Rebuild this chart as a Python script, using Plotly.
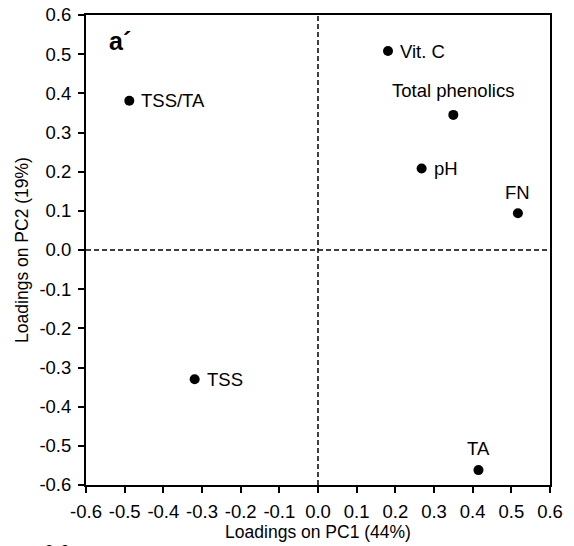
import plotly.graph_objects as go

names = ["Vit. C", "TSS/TA", "Total phenolics", "pH", "FN", "TSS", "TA"]
pc1 = [0.181, -0.488, 0.350, 0.268, 0.517, -0.319, 0.415]
pc2 = [0.508, 0.381, 0.345, 0.208, 0.094, -0.330, -0.562]
tick_vals = [-0.6, -0.5, -0.4, -0.3, -0.2, -0.1, 0.0, 0.1, 0.2, 0.3, 0.4, 0.5, 0.6]
tick_text = ["-0.6", "-0.5", "-0.4", "-0.3", "-0.2", "-0.1", "0.0", "0.1", "0.2", "0.3", "0.4", "0.5", "0.6"]

# label placement style: (xanchor, xshift, yshift)
label_style = {
    "Vit. C": ("left", 10, 0),
    "TSS/TA": ("left", 10, 0),
    "Total phenolics": ("center", 0, 24),
    "pH": ("left", 10, 0),
    "FN": ("center", 0, 21),
    "TSS": ("left", 10, 0),
    "TA": ("center", 0, 22),
}

font = "Liberation Sans, Arial, sans-serif"
fig = go.Figure()
fig.add_trace(go.Scatter(x=pc1, y=pc2, mode="markers",
                         marker=dict(color="black", size=10), showlegend=False))

for n, x, y in zip(names, pc1, pc2):
    xa, xs, ys = label_style[n]
    fig.add_annotation(x=x, y=y, text=n, showarrow=False, xanchor=xa, yanchor="middle",
                       xshift=xs, yshift=ys, font=dict(family=font, size=18.5, color="black"))

fig.add_annotation(xref="paper", yref="paper", x=0.045, y=0.945, text="<b>a´</b>",
                   showarrow=False, xanchor="left", yanchor="middle",
                   font=dict(family=font, size=25, color="black"))

# top of the next panel's tick label, cut off by the image edge
fig.add_annotation(xref="paper", yref="paper", x=-0.03, y=-0.115, text="0.6",
                   showarrow=False, xanchor="right", yanchor="top",
                   font=dict(family=font, size=18.5, color="black"))

fig.add_shape(type="line", x0=0, x1=0, y0=-0.6, y1=0.6, line=dict(color="black", width=1.5, dash="5px,3px"))
fig.add_shape(type="line", x0=-0.6, x1=0.6, y0=0, y1=0, line=dict(color="black", width=1.5, dash="5px,3px"))

axis_common = dict(showgrid=False, zeroline=False, showline=True, linecolor="black", linewidth=2,
                   mirror=True, ticks="outside", ticklen=6, tickwidth=2, tickcolor="black",
                   automargin=False,
                   tickfont=dict(family=font, size=18.5, color="black"))
fig.update_xaxes(range=[-0.6, 0.6], tickvals=tick_vals, ticktext=tick_text, ticklabelstandoff=3,
                 title=dict(text="Loadings on PC1 (44%)", font=dict(family=font, size=17.5, color="black"), standoff=0),
                 **axis_common)
fig.update_yaxes(range=[-0.6, 0.6], tickvals=tick_vals, ticktext=tick_text, ticklabelstandoff=3,
                 title=dict(text="Loadings on PC2 (19%)", font=dict(family=font, size=17.5, color="black"), standoff=6),
                 **axis_common)
fig.update_layout(width=574, height=546, margin=dict(l=86, r=24, t=15, b=61),
                  plot_bgcolor="white", paper_bgcolor="white")
fig.write_html("out.html")
